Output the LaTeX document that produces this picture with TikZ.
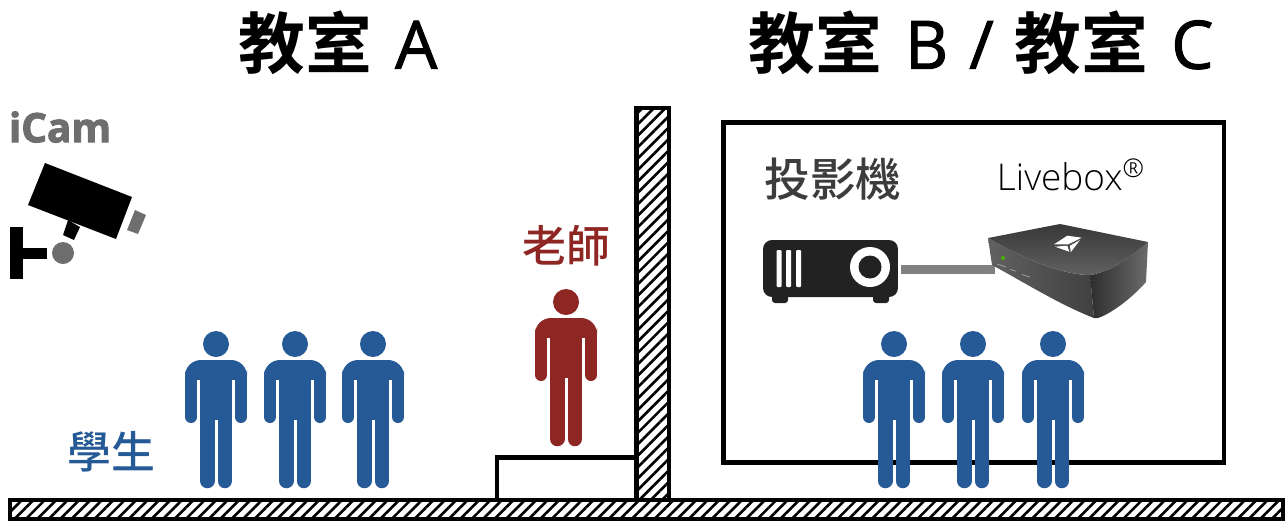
\documentclass[tikz,border=0pt]{standalone}
\usepackage{fontspec}
\usetikzlibrary{patterns.meta}
\newfontfamily\cjkmed{Noto Sans CJK TC Medium}
\newfontfamily\cjkbold{Noto Sans CJK TC Bold}
\newfontfamily\latinfont[FakeBold=1.5]{Open Sans}
\newfontfamily\camfont[FakeBold=2.5]{Open Sans Bold}
\newfontfamily\boxfont{Open Sans Light}
\newcommand{\roomname}[1]{{\cjkbold 教室}\hspace{13pt}{\latinfont #1}}
\definecolor{studentblue}{HTML}{265A96}
\definecolor{teacherred}{HTML}{8E2623}
\definecolor{camgray}{HTML}{6E6E6E}
\definecolor{darktext}{HTML}{3C3C3C}
\definecolor{cablegray}{HTML}{808080}
\definecolor{projblack}{HTML}{222222}
\tikzset{
	title/.style={font=\fontsize{38}{38}\selectfont, inner sep=0pt},
	hatched/.style={draw=black, line width=4.5*0.569pt, pattern={Lines[angle=45,distance=4.6pt,line width=1.5pt]}},
	wallline/.style={draw=black, line width=4.5*0.569pt},
	pics/person/.style={code={
		\fill[#1] (0,13) circle (13);
		\fill[#1, rounded corners=16*0.569pt] (-31,55) -- (-31,29) -- (31,29) -- (31,55) -- cycle;
		\fill[white] (-19,49) rectangle (-16,60);
		\fill[white] (16,49) rectangle (19,60);
		\fill[#1] (-16,40) rectangle (16,89);
		\foreach \s in {-1,1}{
			\draw[#1, line width=12*0.569pt, line cap=round] (\s*25,45) -- (\s*25,86);
			\draw[#1, line width=14.5*0.569pt, line cap=round] (\s*8.75,80) -- (\s*8.75,150);
		}
	}}
}
\begin{document}
\begin{tikzpicture}[x=0.02cm,y=-0.02cm]
	\useasboundingbox (0,0) rectangle (1287,522);
	% titles
	\node[title] (titleA) at (338,43) {\roomname{A}};
	\node[title] (titleB) at (981,43) {\roomname{B}\hspace{12pt}{\latinfont /}\hspace{12pt}\roomname{C}};
	% walls
	\draw[hatched] (636.5,108) rectangle (669,500);
	\draw[hatched] (10,500) rectangle (1283,519);
	\draw[wallline] (497,499) -- (497,457.5) -- (636,457.5);
	\draw[wallline] (723.5,122.5) rectangle (1224,462.5);
	% people
	\foreach \x in {216,295,373}
		\pic at (\x,331) {person=studentblue};
	\foreach \x in {894,973,1053}
		\pic at (\x,331) {person=studentblue};
	\pic at (566,289) {person=teacherred};
	\node[font=\fontsize{25}{25}\selectfont\cjkmed, text=studentblue, inner sep=0pt] (student) at (111,452) {學生};
	\node[font=\fontsize{25}{25}\selectfont\cjkmed, text=teacherred, inner sep=0pt] (teacher) at (566,246) {老師};
	% camera
	\node[font=\fontsize{23}{23}\selectfont\camfont, text=camgray, inner sep=0pt] (icam) at (60,127) {iCam};
	\fill[black] (45,163) -- (132,197) -- (116,239) -- (28,205) -- cycle;
	\fill[black] (68,220) -- (80,227) -- (74,240) -- (63,235) -- cycle;
	\fill[camgray] (135,210) -- (146,215) -- (138,234) -- (127,230) -- cycle;
	\fill[black] (10,227) rectangle (23,279);
	\fill[black] (23,248) rectangle (47,259);
	\fill[camgray] (63,253) circle (11);
	% projector
	\fill[projblack, rounded corners=3*0.569pt] (772,285) rectangle (788,303);
	\fill[projblack, rounded corners=3*0.569pt] (873,285) rectangle (889,303);
	\node[fill=projblack, rounded corners=9*0.569pt, minimum width=135*0.569pt, minimum height=57*0.569pt, inner sep=0pt] (projector) at (830.5,268.5) {};
	\foreach \x in {779,788.5,798.5}
		\fill[white, rounded corners=1*0.569pt] (\x-2.5,250) rectangle (\x+2.5,287);
	\fill[white] (870,267) circle (20);
	\fill[projblack] (870,267) circle (11.5);
	\node[font=\fontsize{26}{26}\selectfont\cjkmed, text=darktext, inner sep=0pt] (projlabel) at (833,179) {投影機};
	% livebox
	\coordinate (boxin) at (995,269.5);
	\draw[cablegray, line width=9*0.569pt] (projector.east |- boxin) ++(3,0) -- (boxin);
	\shade[left color=black!62, right color=black!75] (988,238) .. controls (1030,262) and (1065,275) .. (1090,275) -- (1094,318) .. controls (1060,305) and (1020,280) .. (992,265) -- cycle;
	\shade[left color=black!82, right color=black!58] (1090,275) .. controls (1110,272) and (1130,258) .. (1148,242) -- (1146,282) .. controls (1130,300) and (1110,314) .. (1098,318) -- (1094,318) -- cycle;
	\shade[top color=black!78, bottom color=black!62] (988,238) -- (1060,224) -- (1148,242) .. controls (1130,258) and (1110,272) .. (1090,275) .. controls (1065,275) and (1030,262) .. cycle;
	\fill[white] (1054,244.3) -- (1067.3,235.7) -- (1081.7,237.7) -- (1068.3,244.3) -- cycle;
	\fill[white] (1055,246.7) -- (1067.3,245.7) -- (1069.3,251.7) -- cycle;
	\fill[white] (1070,245.7) -- (1080,240) -- (1070.7,252.3) -- cycle;
	\fill[green!55!black!70!yellow] (1003,258) circle (2);
	\foreach \a/\b in {997/1006,1010/1016,1022/1030}
		\draw[black!35, line width=0.4pt] (\a,{264+(\a-997)*0.42}) -- (\b,{267+(\b-1006)*0.42});
	\node[font=\fontsize{21}{21}\selectfont\boxfont, text=black, inner sep=0pt] (boxlabel) at (1071,175) {Livebox\textsuperscript{®}};
\end{tikzpicture}
\end{document}
